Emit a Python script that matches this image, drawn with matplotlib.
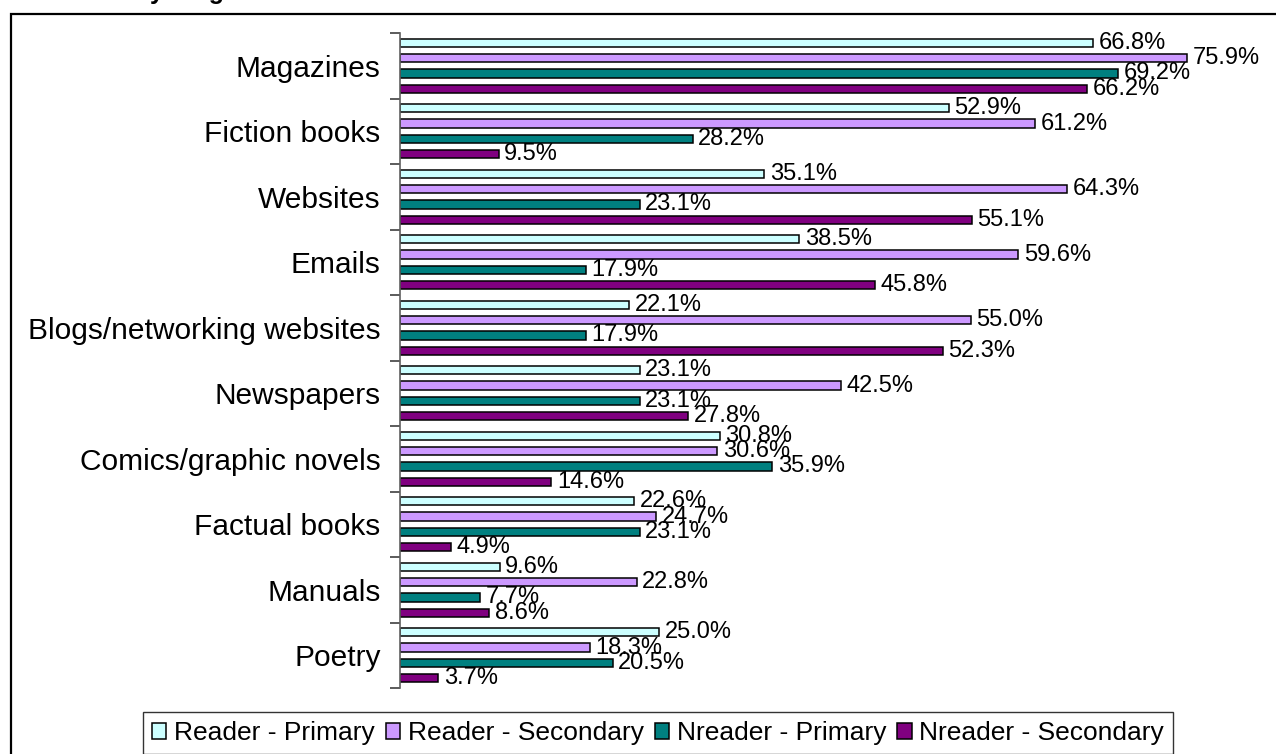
import matplotlib.pyplot as plt
import numpy as np
from matplotlib.patches import Rectangle
from matplotlib.ticker import FixedLocator

plt.rcParams['font.family'] = ['Liberation Sans', 'DejaVu Sans']

categories = ['Magazines', 'Fiction books', 'Websites', 'Emails',
              'Blogs/networking websites', 'Newspapers', 'Comics/graphic novels',
              'Factual books', 'Manuals', 'Poetry']
series_names = ['Reader - Primary', 'Reader - Secondary',
                'Nreader - Primary', 'Nreader - Secondary']
reader_primary = [66.8, 52.9, 35.1, 38.5, 22.1, 23.1, 30.8, 22.6, 9.6, 25.0]
reader_secondary = [75.9, 61.2, 64.3, 59.6, 55.0, 42.5, 30.6, 24.7, 22.8, 18.3]
nreader_primary = [69.2, 28.2, 23.1, 17.9, 17.9, 23.1, 35.9, 23.1, 7.7, 20.5]
nreader_secondary = [66.2, 9.5, 55.1, 45.8, 52.3, 27.8, 14.6, 4.9, 8.6, 3.7]
colors = ['#CCFFFF', '#CC99FF', '#008080', '#800080']

series = [reader_primary, reader_secondary, nreader_primary, nreader_secondary]

fig = plt.figure(figsize=(12.76, 7.54), dpi=100)
ax = fig.add_axes([400/1276, 1 - 688/754, 830/1276, 655/754])

# outer chart border (only top/left visible in the crop)
fig.patches.append(Rectangle((11/1276, -0.1), 1.2, 1 - 14/754 + 0.1,
                             transform=fig.transFigure, fill=False,
                             edgecolor='black', linewidth=1.6))
# cut-off title, only descenders visible
fig.text(150/1276, 1 + 1/754, 'young', fontsize=18, fontweight='bold',
         va='baseline', ha='left')

y = np.arange(len(categories))
step = 0.234
h = 0.125
for i, (vals, c, name) in enumerate(zip(series, colors, series_names)):
    bars = ax.barh(y + (i - 1.5) * step, vals, height=h, color=c,
                   edgecolor='black', linewidth=1.1, label=name)
    ax.bar_label(bars, labels=[f'{v:.1f}%' for v in vals], padding=4,
                 fontsize=17)

ax.set_xlim(0, 80)
ax.set_ylim(len(categories) - 0.5, -0.5)
ax.set_yticks(y)
ax.set_yticklabels(categories, fontsize=21.5)
ax.yaxis.set_minor_locator(FixedLocator(np.arange(-0.5, len(categories), 1)))
ax.tick_params(axis='y', which='major', length=0, pad=14)
ax.tick_params(axis='y', which='minor', length=7, color='#404040', width=1.2)
ax.set_xticks([])
for s in ['top', 'right', 'bottom']:
    ax.spines[s].set_visible(False)
ax.spines['left'].set_color('#606060')
ax.spines['left'].set_linewidth(1.2)

leg = fig.legend(loc='upper center', bbox_to_anchor=(658/1276, 1 - 712/754),
                 borderaxespad=0, ncol=4, fontsize=19, frameon=True,
                 fancybox=False, edgecolor='black', handlelength=0.55,
                 handleheight=0.55, handletextpad=0.3, columnspacing=0.4,
                 borderpad=0.35)
leg.get_frame().set_linewidth(1.0)

plt.savefig('out.png', dpi=100)
